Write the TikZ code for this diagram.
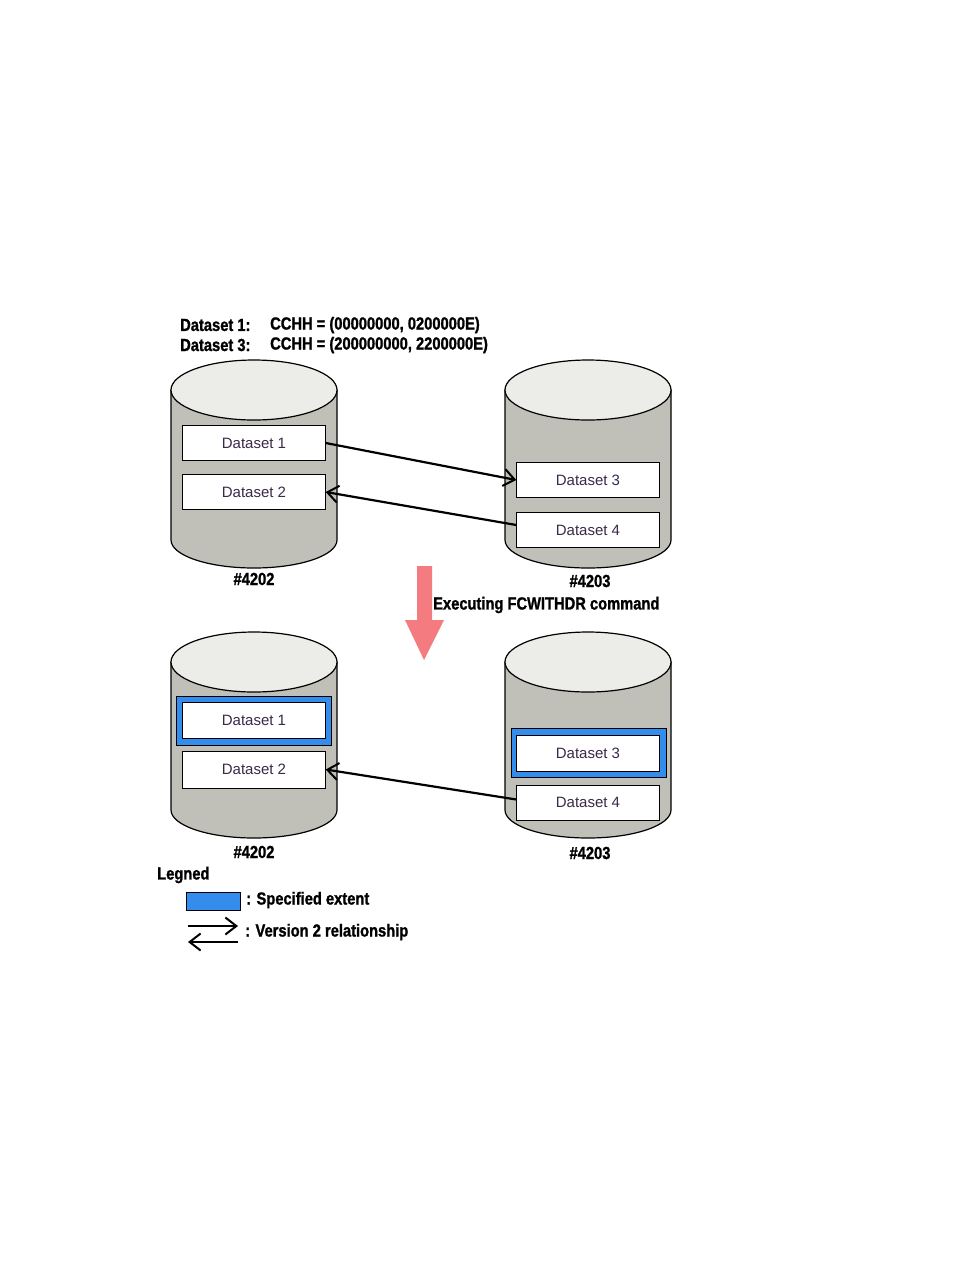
\documentclass[tikz,border=0pt]{standalone}
\usepackage{fontspec}
\setmainfont{Liberation Sans}
\newfontfamily\hdrfont[FakeStretch=0.84,FakeBold=1.2]{Liberation Sans Bold}
\usepackage{tikz}
\usetikzlibrary{arrows.meta}
\definecolor{diskbody}{RGB}{192,192,184}
\definecolor{disktop}{RGB}{236,236,232}
\definecolor{extblue}{RGB}{52,140,236}
\definecolor{cmdred}{RGB}{244,124,128}
\definecolor{dstext}{RGB}{60,40,72}
\tikzset{
  dset/.style={draw,fill=white,minimum width=143pt,minimum height=35pt,inner sep=0pt,font=\fontsize{15}{18}\selectfont,text=dstext},
  ext/.style={draw,fill=extblue,minimum width=155pt,minimum height=49pt,inner sep=0pt},
  lbl/.style={inner sep=0pt,font=\hdrfont\fontsize{17.5}{20}\selectfont},
  rel/.style={-{Straight Barb[length=11pt,width=17pt,line width=2pt]},line width=2.2pt},
}
% disk drum: centre x, top y, bottom y
\newcommand{\disk}[3]{%
  \filldraw[fill=diskbody,line width=1.2pt] (#1-83,#2) -- (#1-83,#3) arc[start angle=180,end angle=0,x radius=83,y radius=28] -- (#1+83,#2) -- cycle;
  \filldraw[fill=disktop,line width=1.2pt] (#1,#2) ellipse[x radius=83,y radius=30];}

\begin{document}
\begin{tikzpicture}[x=1pt,y=-1pt]
\useasboundingbox (0,0) rectangle (954,1270);
% extents
\node[lbl,anchor=west] (hd1) at (180,325) {Dataset 1:};
\node[lbl,anchor=west] (hc1) at (270,325) {CCHH = (00000000, 0200000E)};
\node[lbl,anchor=west] (hd3) at (180,345) {Dataset 3:};
\node[lbl,anchor=west] (hc3) at (270,345) {CCHH = (200000000, 2200000E)};
% before
\disk{254}{390}{540}
\disk{588}{390}{540}
\node[dset] (ua) at (254,443) {Dataset 1};
\node[dset] (ub) at (254,492) {Dataset 2};
\node[dset] (uc) at (588,480) {Dataset 3};
\node[dset] (ud) at (588,530) {Dataset 4};
\draw[rel] (ua.east) -- (uc.west);
\draw[rel] ([yshift=5pt]ud.west) -- (ub.east);
\node[lbl] (uv1) at (254,579) {\#4202};
\node[lbl] (uv2) at (590,581) {\#4203};
% command
\fill[cmdred] (417,566) -- (432,566) -- (432,620) -- (444,620) -- (424,660) -- (405,620) -- (417,620) -- cycle;
\node[lbl,anchor=west] (cmd) at (433,605) {Executing FCWITHDR command};
% after
\disk{254}{662}{810}
\disk{588}{662}{810}
\node[ext] (la0) at (254,720.5) {};
\node[dset,minimum height=36pt] (la) at (254,720) {Dataset 1};
\node[dset,minimum height=37pt] (lb) at (254,769.5) {Dataset 2};
\node[ext] (lc0) at (588.5,752.5) {};
\node[dset,minimum height=36pt] (lc) at (588,753) {Dataset 3};
\node[dset] (ld) at (588,802.5) {Dataset 4};
\draw[rel] ([yshift=3pt]ld.west) -- (lb.east);
\node[lbl] (lv1) at (254,852) {\#4202};
\node[lbl] (lv2) at (590,853) {\#4203};
% legend
\node[lbl,anchor=west] (lgd) at (157,875) {Legned};
\node[draw,fill=extblue,minimum width=54pt,minimum height=18pt,inner sep=0pt] (lgbox) at (213,901) {};
\node[lbl,anchor=west] (lgt1) at (246,900) {: Specified extent};
\coordinate (lr1) at (188,926);
\coordinate (lr2) at (238,926);
\coordinate (ll1) at (238,942);
\coordinate (ll2) at (188,942);
\draw[rel] (lr1) -- (lr2);
\draw[rel] (ll1) -- (ll2);
\node[lbl,anchor=west] (lgt2) at (245,932) {: Version 2 relationship};
\end{tikzpicture}
\end{document}
